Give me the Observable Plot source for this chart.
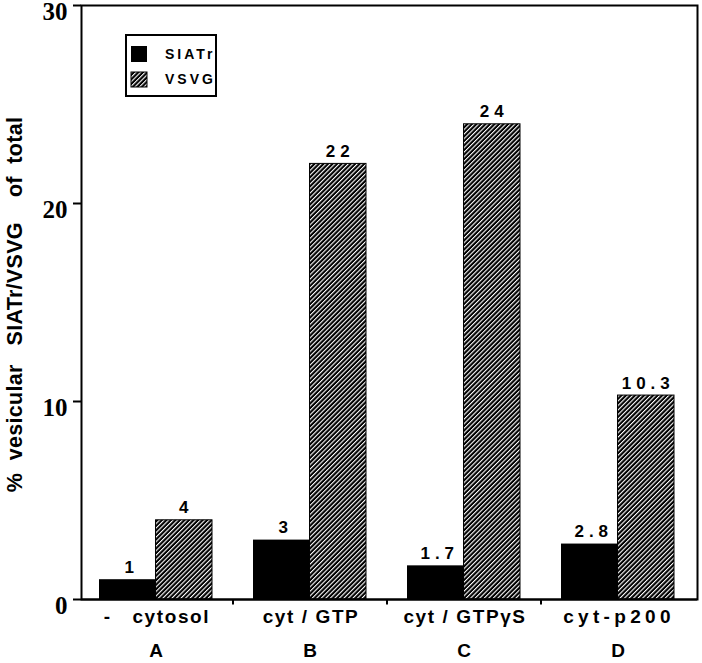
<!DOCTYPE html>
<html><head><meta charset="utf-8">
<script src="https://cdn.jsdelivr.net/npm/d3@7"></script>
<script src="https://cdn.jsdelivr.net/npm/@observablehq/plot@0.6"></script>
<style>
body{margin:0;background:#fff;}
#chart{position:relative;width:702px;height:663px;}
#chart svg{overflow:visible}
g[aria-label="x-axis tick label"] text{letter-spacing:1.6px}
.legend{position:absolute;left:125px;top:34px;width:92px;height:63px;border:2px solid #000;box-sizing:border-box;
  font-family:"Liberation Sans",Arial,sans-serif;font-weight:bold;font-size:14px;letter-spacing:3px;}
.legend .row{position:absolute;left:4px;display:flex;align-items:center;}
.legend .row span{margin-left:18px;}
</style></head><body>
<svg width="0" height="0" style="position:absolute">
  <defs>
    <pattern id="hatch" patternUnits="userSpaceOnUse" width="3.2" height="3.2" patternTransform="rotate(45)">
      <rect width="3.2" height="3.2" fill="#000"></rect>
      <rect x="0" width="1.1" height="3.2" fill="#fff"></rect>
    </pattern>
  </defs>
</svg>
<div id="chart"></div>
<script>
const groups = ["A", "B", "C", "D"];
const conditions = ["-\u00A0\u00A0\u00A0cytosol", "cyt / GTP", "cyt / GTP\u03B3S", "cyt-p200"];
const seriesNames = ["SIATr", "VSVG"];
const siatrValues = [1, 3, 1.7, 2.8];
const vsvgValues = [4, 22, 24, 10.3];
const yTicks = [0, 10, 20, 30];
const yTitle = "%\u00A0\u00A0vesicular\u00A0\u00A0\u00A0SIATr/VSVG\u00A0\u00A0\u00A0\u00A0of\u00A0\u00A0total";

const siatr = groups.map((g, i) => ({group: g, value: siatrValues[i]}));
const vsvg = groups.map((g, i) => ({group: g, value: vsvgValues[i]}));

const W = 702, H = 663;
const mL = 81, mR = 5, mT = 5, mB = 64;
const paddingInner = 0.266, paddingOuter = 0.133;
const step = (W - mL - mR) / (groups.length - paddingInner + 2 * paddingOuter);
const bw = step * (1 - paddingInner);
const half = bw / 2;

const sans = "Liberation Sans, Arial, sans-serif";
const serif = "Liberation Serif, Times New Roman, serif";

const plot = Plot.plot({
  width: W, height: H,
  marginLeft: mL, marginRight: mR, marginTop: mT, marginBottom: mB,
  x: {domain: groups, paddingInner, paddingOuter, align: 0.44},
  y: {domain: [0, 30]},
  style: {background: "#fff", color: "#000"},
  marks: [
    Plot.barY(siatr, {x: "group", y: "value", fill: "#000", insetRight: half}),
    Plot.barY(vsvg, {x: "group", y: "value", fill: "url(#hatch)", stroke: "#000", strokeWidth: 1, insetLeft: half}),
    Plot.text(siatr, {x: "group", y: "value", text: d => String(d.value), dx: -half / 2 + 4, dy: -7, lineAnchor: "bottom",
      fontFamily: sans, fontWeight: "bold", fontSize: 17}),
    Plot.text(vsvg, {x: "group", y: "value", text: d => String(d.value), dx: half / 2 + 2, dy: -7, lineAnchor: "bottom",
      fontFamily: sans, fontWeight: "bold", fontSize: 17}),
    Plot.frame({stroke: "#000", strokeWidth: 2}),
    Plot.ruleY([0], {stroke: "#000", strokeWidth: 2}),
    Plot.axisY({ticks: yTicks, tickSize: 8, text: null, label: null, strokeWidth: 2}),
    Plot.axisY({ticks: yTicks, tickSize: 0, tickPadding: 14, dy: 6, label: null,
      fontFamily: serif, fontWeight: "bold", fontSize: 25}),
    Plot.ruleX(groups.slice(0, 3), {x: d => d, dx: step / 2, y1: 0, y2: -0.28, stroke: "#000", strokeWidth: 2}),
    Plot.axisX({tickSize: 0, tickPadding: 10, label: null, tickFormat: g => conditions[groups.indexOf(g)],
      dx: 1, fontFamily: sans, fontWeight: "bold", fontSize: 19}),
    Plot.axisX({tickSize: 0, tickPadding: 44, label: null, tickFormat: g => g,
      dx: 1, fontFamily: sans, fontWeight: "bold", fontSize: 19}),
    Plot.text([yTitle], {frameAnchor: "left", rotate: -90, dx: -66, dy: 2, text: d => d, textAnchor: "middle",
      fontFamily: sans, fontWeight: "bold", fontSize: 21.5})
  ]
});
const chart = document.getElementById("chart");
chart.appendChild(plot);

// typesetting tweaks: spaced figures as in the original
d3.select(plot).selectAll('g[font-size="17"] text').style("letter-spacing", "5px");
d3.select(plot).selectAll('g[font-size="21.5"] text').style("letter-spacing", "0.3px");
d3.select(plot).selectAll('g[aria-label="x-axis tick label"] text')
  .filter(function () { return this.textContent === conditions[3]; })
  .style("letter-spacing", "4.3px");

// legend
const legend = document.createElement("div");
legend.className = "legend";
legend.innerHTML = `
  <div class="row" style="top:10px"><svg width="16" height="16"><rect width="16" height="16" fill="#000"/></svg><span>${seriesNames[0]}</span></div>
  <div class="row" style="top:35px"><svg width="16" height="15"><rect width="16" height="15" fill="url(#hatch)" stroke="#000"/></svg><span>${seriesNames[1]}</span></div>`;
chart.appendChild(legend);
</script>
</body></html>
